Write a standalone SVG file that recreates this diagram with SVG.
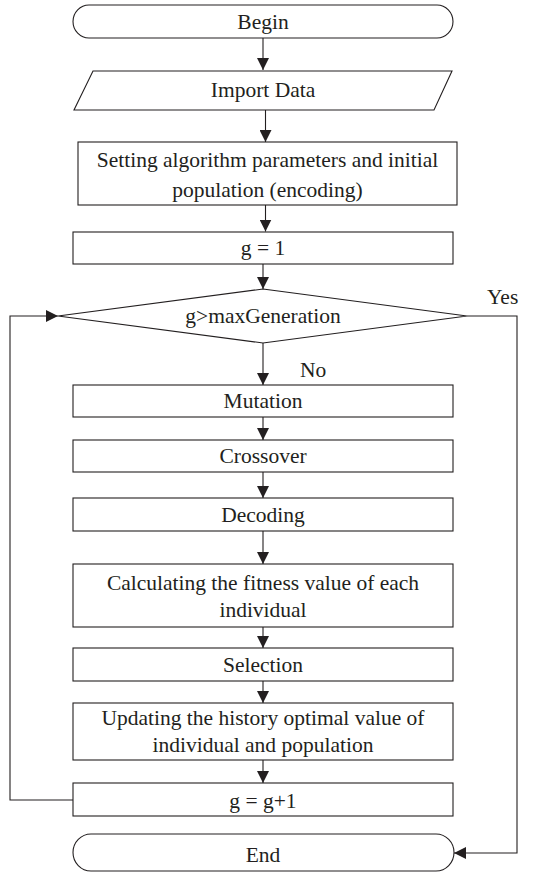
<svg xmlns="http://www.w3.org/2000/svg" width="553" height="873" viewBox="0 0 553 873">
  <style>
    .shape { fill: #ffffff; stroke: #231f20; stroke-width: 1.1; }
    .wire { fill: none; stroke: #231f20; stroke-width: 1.1; }
    .label { font-family: "Liberation Serif", "Times New Roman", serif; font-size: 21.5px; fill: #231f20; text-anchor: middle; }
    .tag { font-family: "Liberation Serif", "Times New Roman", serif; font-size: 21.5px; fill: #231f20; }
  </style>
  <defs>
    <marker id="arrow" viewBox="0 0 12 12" refX="12" refY="6" markerWidth="12" markerHeight="12" markerUnits="userSpaceOnUse" orient="auto">
      <path d="M0,0 L12,6 L0,12 Z" fill="#231f20"/>
    </marker>
  </defs>
  <rect width="553" height="873" fill="#ffffff"/>

  <!-- connectors -->
  <g id="connectors">
    <line class="wire" x1="263" y1="38" x2="263" y2="70" marker-end="url(#arrow)"/>
    <line class="wire" x1="265.5" y1="110" x2="265.5" y2="142" marker-end="url(#arrow)"/>
    <line class="wire" x1="265.5" y1="205" x2="265.5" y2="231.5" marker-end="url(#arrow)"/>
    <line class="wire" x1="263" y1="264" x2="263" y2="289" marker-end="url(#arrow)"/>
    <line class="wire" x1="263" y1="343" x2="263" y2="385" marker-end="url(#arrow)"/>
    <line class="wire" x1="263" y1="417" x2="263" y2="440" marker-end="url(#arrow)"/>
    <line class="wire" x1="263" y1="472" x2="263" y2="498" marker-end="url(#arrow)"/>
    <line class="wire" x1="263" y1="531" x2="263" y2="564" marker-end="url(#arrow)"/>
    <line class="wire" x1="263" y1="627" x2="263" y2="648" marker-end="url(#arrow)"/>
    <line class="wire" x1="263" y1="681" x2="263" y2="703" marker-end="url(#arrow)"/>
    <line class="wire" x1="263" y1="760" x2="263" y2="783" marker-end="url(#arrow)"/>
    <!-- loop back: g = g+1 to decision -->
    <polyline class="wire" points="73,800 10,800 10,316 58,316" marker-end="url(#arrow)"/>
    <!-- exit: decision to End -->
    <polyline class="wire" points="467,316 517,316 517,853 454,853" marker-end="url(#arrow)"/>
    <text class="tag" x="487" y="304">Yes</text>
    <text class="tag" x="300" y="377">No</text>
  </g>

  <g id="begin">
    <rect class="shape" x="73" y="5" width="380" height="33" rx="16" ry="16.5"/>
    <text class="label" x="263" y="29">Begin</text>
  </g>

  <g id="import-data">
    <polygon class="shape" points="93,71 452,71 434,110 74,110"/>
    <text class="label" x="263" y="97">Import Data</text>
  </g>

  <g id="setting">
    <rect class="shape" x="78" y="142" width="379" height="63"/>
    <text class="label" x="267.5" y="167">Setting algorithm parameters and initial</text>
    <text class="label" x="267.5" y="197">population (encoding)</text>
  </g>

  <g id="init-g">
    <rect class="shape" x="73" y="232" width="380" height="32"/>
    <text class="label" x="263" y="255">g = 1</text>
  </g>

  <g id="decision">
    <polygon class="shape" points="263,289 467,316 263,343 58,316"/>
    <text class="label" x="263" y="323">g&gt;maxGeneration</text>
  </g>

  <g id="mutation">
    <rect class="shape" x="73" y="385" width="380" height="32"/>
    <text class="label" x="263" y="408">Mutation</text>
  </g>

  <g id="crossover">
    <rect class="shape" x="73" y="440" width="380" height="32"/>
    <text class="label" x="263" y="463">Crossover</text>
  </g>

  <g id="decoding">
    <rect class="shape" x="73" y="498" width="380" height="33"/>
    <text class="label" x="263" y="522">Decoding</text>
  </g>

  <g id="fitness">
    <rect class="shape" x="73" y="564" width="380" height="63"/>
    <text class="label" x="263" y="590">Calculating the fitness value of each</text>
    <text class="label" x="263" y="617">individual</text>
  </g>

  <g id="selection">
    <rect class="shape" x="73" y="648" width="380" height="33"/>
    <text class="label" x="263" y="672">Selection</text>
  </g>

  <g id="update">
    <rect class="shape" x="73" y="703" width="380" height="57"/>
    <text class="label" x="263" y="725">Updating the history optimal value of</text>
    <text class="label" x="263" y="752">individual and population</text>
  </g>

  <g id="increment-g">
    <rect class="shape" x="73" y="783" width="380" height="33"/>
    <text class="label" x="263" y="808">g = g+1</text>
  </g>

  <g id="end">
    <rect class="shape" x="73" y="834" width="381" height="37" rx="18" ry="18.5"/>
    <text class="label" x="263" y="862">End</text>
  </g>
</svg>
